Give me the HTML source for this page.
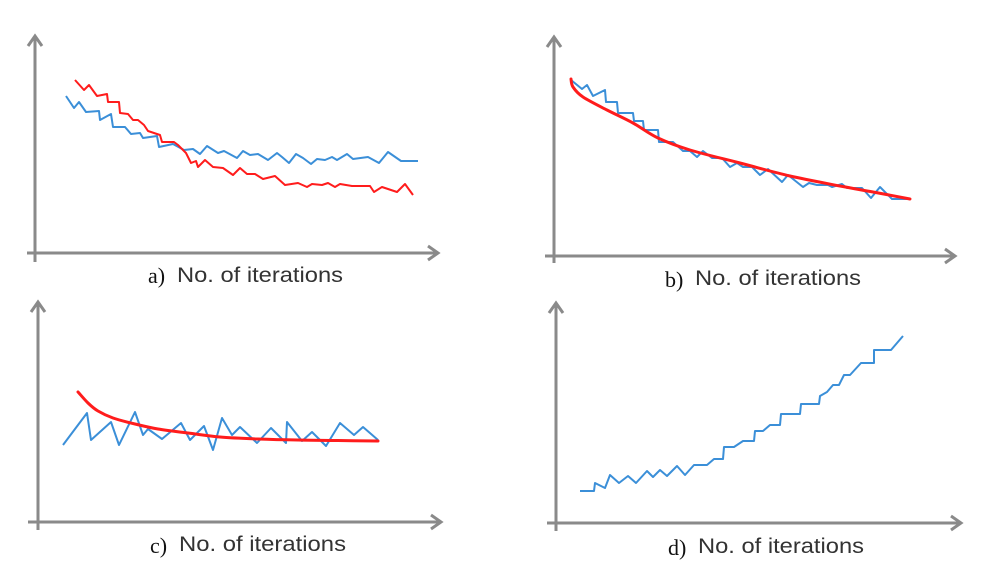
<!DOCTYPE html>
<html><head><meta charset="utf-8"><style>
html,body{margin:0;padding:0;background:#fff;}
svg{display:block;}
.lbl{font-family:"Liberation Sans",sans-serif;font-size:21px;fill:#333;}
.ser{font-family:"Liberation Serif",serif;font-size:22px;fill:#111;}
</style></head><body>
<svg id="chart" width="990" height="564" viewBox="0 0 990 564" xmlns="http://www.w3.org/2000/svg">
<g id="axes"></g>
<g id="series"></g>
<text class="ser" x="148" y="283">a)</text>
<text class="lbl" x="177" y="282" textLength="166" lengthAdjust="spacingAndGlyphs">No. of iterations</text>
<text class="ser" x="665" y="287">b)</text>
<text class="lbl" x="695" y="285" textLength="166" lengthAdjust="spacingAndGlyphs">No. of iterations</text>
<text class="ser" x="150" y="553">c)</text>
<text class="lbl" x="179" y="551" textLength="167" lengthAdjust="spacingAndGlyphs">No. of iterations</text>
<text class="ser" x="668" y="555">d)</text>
<text class="lbl" x="698" y="553" textLength="166" lengthAdjust="spacingAndGlyphs">No. of iterations</text>
</svg>
<script>
// Panel a
const aBlueX=[31,39,44,51,64,65,76,78,90,96,105,108,122,124,138,149,158,165,172,183,189,202,208,215,223,233,242,247,254,261,268,276,282,290,297,302,312,318,333,344,353,366,383];
const aBlueY=[159,147,153,143,144,135,141,128,128,121,122,117,119,108,111,105,106,101,109,102,104,97,104,100,101,95,102,98,92,101,97,91,96,95,98,95,101,96,98,92,103,94,94];
const aRedX=[40,49,54,62,72,73,84,85,93,98,103,109,113,125,127,139,143,151,156,161,163,170,178,188,198,205,212,220,228,240,250,263,272,277,287,293,300,305,317,335,339,347,362,370,378];
const aRedY=[175,165,170,159,161,153,153,142,141,135,135,130,124,120,113,113,110,102,92,94,88,95,88,87,80,87,81,81,76,79,70,72,68,71,70,72,68,71,69,69,63,68,63,71,60];
// Panel b
const bBlueX=[17,28,33,39,51,52,63,64,79,80,89,90,104,105,119,129,136,143,149,158,168,176,183,189,198,206,214,228,234,249,255,263,274,278,288,293,308,317,326,338,356];
const bBlueY=[175,166,170,159,165,153,153,142,142,134,134,125,125,113,113,104,104,98,104,97,97,88,92,88,88,80,86,73,80,68,72,70,70,68,71,67,67,57,68,56,56];
const bFitX=[17,19,29,53,79,104,136,186,236,286,319,356];
const bFitY=[176,168,158,145,132,117,105,92,79,69,63,56];
// Panel c
const cBlueX=[25,49,53,73,81,97,105,110,124,143,152,166,175,184,194,202,219,233,248,249,264,274,288,302,316,325,340];
const cBlueY=[77,109,82,100,77,110,87,93,83,99,82,96,72,104,87,95,79,94,79,100,81,90,76,99,87,95,82];
const cFitX=[40,50,60,75,97,120,150,182,220,260,300,340];
const cFitY=[130,119,111,104,98,93,89,85,83,82,81.5,81];
// Panel d
const dBlueX=[23,37,38,48,53,62,71,79,90,96,103,110,120,128,137,150,157,166,167,177,186,197,198,206,213,223,224,243,244,262,263,270,276,282,287,293,304,317,317,334,346];
const dBlueY=[32,32,40,35,48,40,47,40,52,46,53,47,57,48,58,58,64,64,76,76,82,82,92,92,98,98,109,109,119,119,127,131,138,138,148,148,160,160,173,173,187];

const NS='http://www.w3.org/2000/svg';
const axesG=document.getElementById('axes');
const serG=document.getElementById('series');
const panels={a:{ox:35,oy:255},b:{ox:554,oy:255},c:{ox:38,oy:522},d:{ox:557,oy:523}};
function xS(p,v){return panels[p].ox+v;}
function yS(p,v){return panels[p].oy-v;}

function mk(tag,attrs){const e=document.createElementNS(NS,tag);for(const k in attrs)e.setAttribute(k,attrs[k]);return e;}

const axisDefs=[
 {p:'a',yx:35,yt:36,yb:262,xy:253,xl:27,xr:438},
 {p:'b',yx:554,yt:37,yb:263,xy:256,xl:545,xr:955},
 {p:'c',yx:38,yt:302,yb:530,xy:522,xl:28,xr:441},
 {p:'d',yx:556,yt:303,yb:531,xy:523,xl:547,xr:961}
];
axisDefs.forEach(d=>{
 const ya=mk('path',{d:`M${d.yx},${d.yb} L${d.yx},${d.yt} M${d.yx-7},${d.yt+10} L${d.yx},${d.yt} L${d.yx+7},${d.yt+10}`,stroke:'#8a8a8a','stroke-width':3,fill:'none'});
 
 
 axesG.appendChild(ya);
 const xa=mk('path',{d:`M${d.xl},${d.xy} L${d.xr},${d.xy} M${d.xr-10},${d.xy-7} L${d.xr},${d.xy} L${d.xr-10},${d.xy+7}`,stroke:'#8a8a8a','stroke-width':3,fill:'none'});
 
 
 axesG.appendChild(xa);
});

function poly(p,xs,ys){return xs.map((x,i)=>xS(p,x).toFixed(1)+','+yS(p,ys[i]).toFixed(1)).join(' ');}
function smooth(p,xs,ys){
 const pts=xs.map((x,i)=>[xS(p,x),yS(p,ys[i])]);
 let d='M'+pts[0][0]+','+pts[0][1];
 for(let i=0;i<pts.length-1;i++){
  const p0=pts[Math.max(0,i-1)],p1=pts[i],p2=pts[i+1],p3=pts[Math.min(pts.length-1,i+2)];
  const c1=[p1[0]+(p2[0]-p0[0])/6,p1[1]+(p2[1]-p0[1])/6];
  const c2=[p2[0]-(p3[0]-p1[0])/6,p2[1]-(p3[1]-p1[1])/6];
  d+=` C${c1[0].toFixed(1)},${c1[1].toFixed(1)} ${c2[0].toFixed(1)},${c2[1].toFixed(1)} ${p2[0].toFixed(1)},${p2[1].toFixed(1)}`;
 }
 return d;
}
const BLUE='#3b8fd8',RED='#ff1c1c';
function addLine(p,xs,ys,color,name){
 const e=mk('polyline',{points:poly(p,xs,ys),fill:'none',stroke:color,'stroke-width':2,'stroke-linejoin':'round'});
 
 
 serG.appendChild(e);
}
function addCurve(p,xs,ys,name){
 const e=mk('path',{d:smooth(p,xs,ys),fill:'none',stroke:RED,'stroke-width':3,'stroke-linecap':'round'});
 
 
 serG.appendChild(e);
}
addLine('a',aBlueX,aBlueY,BLUE,'series-a-blue');
addLine('a',aRedX,aRedY,RED,'series-a-red');
addLine('b',bBlueX,bBlueY,BLUE,'series-b-blue');
addCurve('b',bFitX,bFitY,'fit-curve-b');
addLine('c',cBlueX,cBlueY,BLUE,'series-c-blue');
addCurve('c',cFitX,cFitY,'fit-curve-c');
addLine('d',dBlueX,dBlueY,BLUE,'series-d-blue');
</script>
</body></html>
